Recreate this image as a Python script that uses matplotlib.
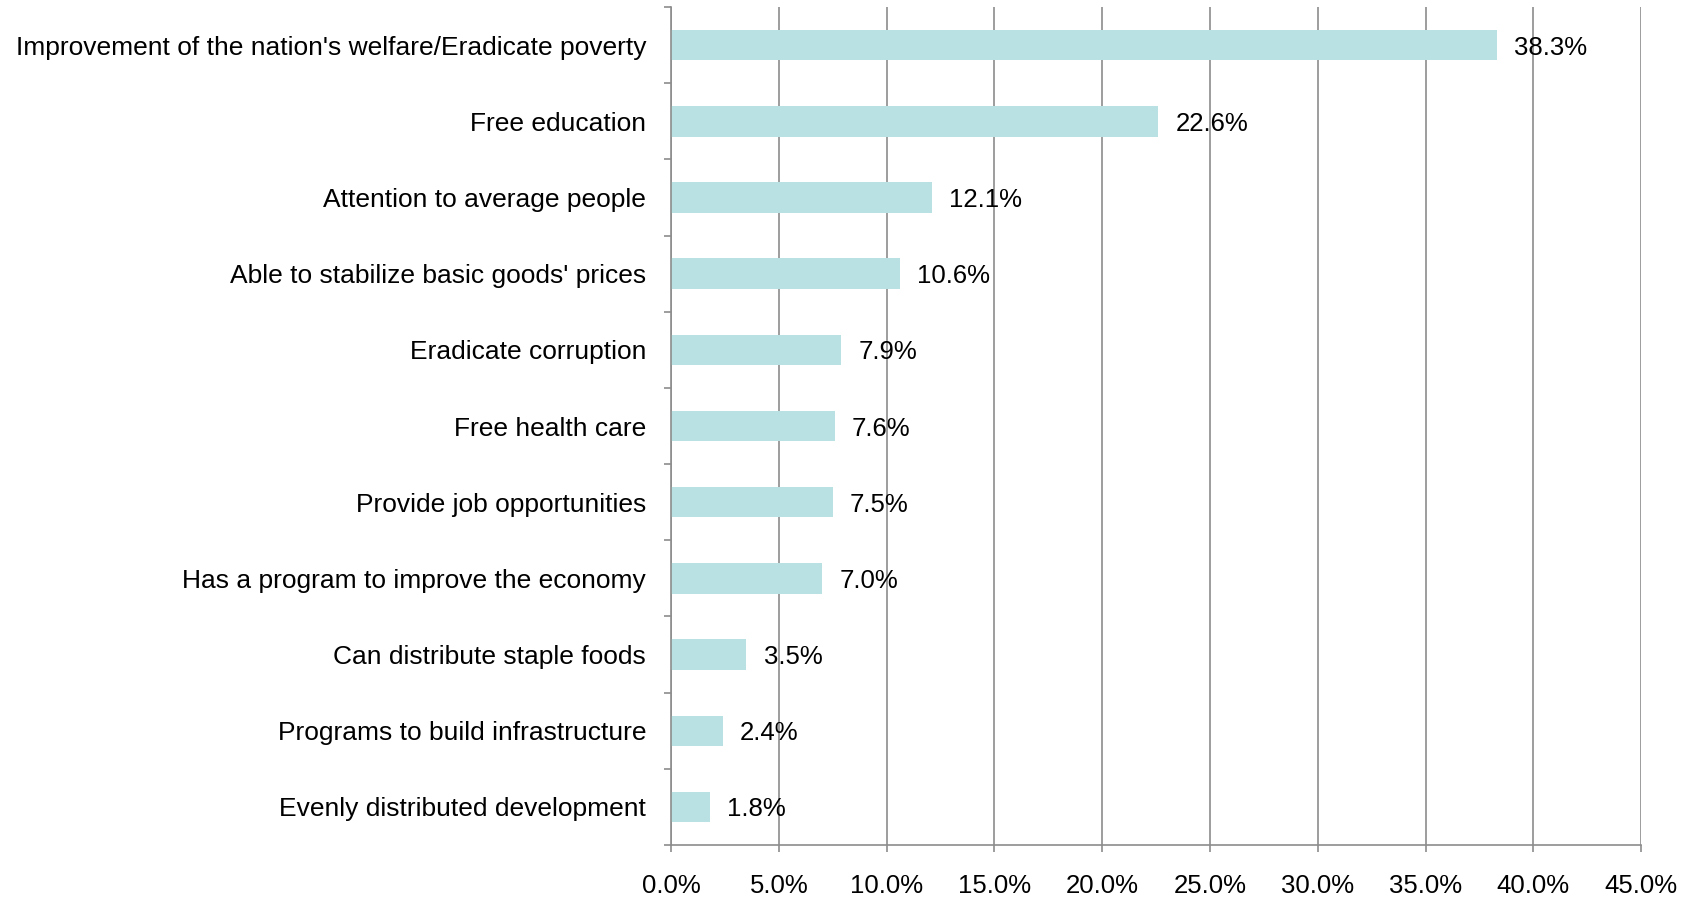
import numpy as np
from matplotlib import pyplot as plt
from matplotlib.ticker import FixedLocator

plt.rcParams['font.family'] = ['Liberation Sans', 'DejaVu Sans']

categories = ["Improvement of the nation's welfare/Eradicate poverty",
              "Free education",
              "Attention to average people",
              "Able to stabilize basic goods' prices",
              "Eradicate corruption",
              "Free health care",
              "Provide job opportunities",
              "Has a program to improve the economy",
              "Can distribute staple foods",
              "Programs to build infrastructure",
              "Evenly distributed development"]
values = [38.3, 22.6, 12.1, 10.6, 7.9, 7.6, 7.5, 7.0, 3.5, 2.4, 1.8]
xticks = [0, 5, 10, 15, 20, 25, 30, 35, 40, 45]

grey = '#8c8c8c'
fs = 18.5

fig = plt.figure(figsize=(16.92, 9.0), dpi=100)
ax = fig.add_axes([0.3966, 0.0611, 0.5733, 0.9311])

n = len(categories)
y = np.arange(n)[::-1]
ax.barh(y, values, height=0.4, color='#b9e0e2', zorder=2)

for yi, v in zip(y, values):
    ax.text(v + 0.8, yi, '%.1f%%' % v, va='center_baseline', ha='left', fontsize=fs, zorder=3)

ax.set_xlim(0, 45)
ax.set_ylim(-0.5, n - 0.5)

ax.set_xticks(xticks)
ax.set_xticklabels(['%.1f%%' % t for t in xticks])
ax.grid(axis='x', color=grey, linewidth=1.2, zorder=1)

ax.set_yticks(y)
ax.set_yticklabels(categories)
ax.yaxis.set_minor_locator(FixedLocator(np.arange(-0.5, n, 1.0)))
ax.tick_params(axis='y', which='major', length=0, pad=18, labelsize=19)
ax.tick_params(axis='y', which='minor', length=5, color=grey, width=1.2)
ax.tick_params(axis='x', which='major', length=5, color=grey, width=1.2, pad=16, labelsize=fs)

for s in ['top', 'right']:
    ax.spines[s].set_visible(False)
for s in ['left', 'bottom']:
    ax.spines[s].set_color(grey)
    ax.spines[s].set_linewidth(1.2)

plt.savefig('out.png', dpi=100)
